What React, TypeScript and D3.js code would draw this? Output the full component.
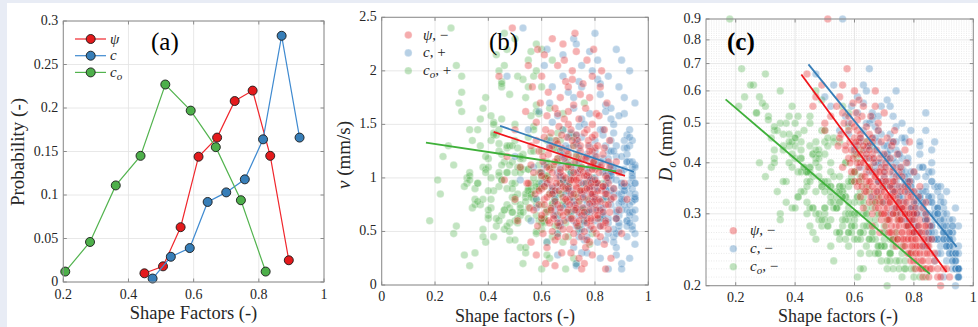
import React from 'react';
import * as d3 from 'd3';

const FONT = "'Liberation Serif', 'DejaVu Serif', 'Times New Roman', Times, serif";
const RED = '#e41a1c';
const BLUE = '#377eb8';
const GREEN = '#4daf4a';
const INK = '#262626';

// ---------- Panel (a): probability of shape factors ----------
const binXPsi = [0.449, 0.506, 0.56, 0.615, 0.672, 0.726, 0.781, 0.835, 0.892];
const probPsi = [0.01, 0.018, 0.063, 0.144, 0.166, 0.208, 0.22, 0.145, 0.025];
const binXC = [0.474, 0.53, 0.588, 0.643, 0.7, 0.757, 0.813, 0.87, 0.925];
const probC = [0.004, 0.029, 0.039, 0.092, 0.103, 0.118, 0.164, 0.283, 0.166];
const binXCo = [0.206, 0.282, 0.361, 0.437, 0.513, 0.591, 0.668, 0.745, 0.821];
const probCo = [0.012, 0.046, 0.111, 0.145, 0.227, 0.197, 0.155, 0.094, 0.012];

const ticksAX = [0.2, 0.4, 0.6, 0.8, 1];
const ticksAY = [0, 0.05, 0.1, 0.15, 0.2, 0.25, 0.3];
const ticksBX = [0, 0.2, 0.4, 0.6, 0.8, 1];
const ticksBY = [0, 0.5, 1, 1.5, 2, 2.5];
const ticksCX = [0.2, 0.4, 0.6, 0.8, 1];
const ticksCY = [0.2, 0.3, 0.4, 0.5, 0.6, 0.7, 0.8, 0.9];

// ---------- Per-drop values (estimated from panels b, c) ----------
const psiVals = [
  0.44,0.46,0.49,0.50,0.51,0.52,0.54,0.545,0.55,0.555,
  0.56,0.56,0.565,0.57,0.575,0.58,0.58,0.585,0.59,0.59,
  0.595,0.60,0.60,0.60,0.605,0.605,0.61,0.61,0.61,0.615,
  0.615,0.62,0.62,0.62,0.625,0.625,0.63,0.63,0.63,0.635,
  0.635,0.64,0.64,0.64,0.64,0.595,0.615,0.645,0.645,0.65,
  0.65,0.65,0.655,0.655,0.66,0.66,0.66,0.665,0.665,0.67,
  0.67,0.67,0.675,0.675,0.68,0.68,0.68,0.685,0.685,0.69,
  0.69,0.69,0.69,0.695,0.695,0.65,0.66,0.67,0.68,0.685,
  0.70,0.70,0.70,0.705,0.705,0.71,0.71,0.71,0.715,0.715,
  0.72,0.72,0.72,0.72,0.725,0.725,0.73,0.73,0.73,0.73,
  0.735,0.735,0.74,0.74,0.74,0.74,0.745,0.745,0.75,0.75,
  0.75,0.70,0.71,0.72,0.725,0.73,0.735,0.74,0.745,0.705,
  0.715,0.75,0.755,0.755,0.76,0.76,0.76,0.765,0.765,0.77,
  0.77,0.77,0.775,0.775,0.78,0.78,0.78,0.78,0.785,0.785,
  0.79,0.79,0.79,0.79,0.795,0.795,0.80,0.80,0.80,0.80,
  0.805,0.805,0.755,0.76,0.77,0.775,0.78,0.785,0.79,0.795,
  0.80,0.805,0.765,0.77,0.785,0.80,0.81,0.81,0.81,0.815,
  0.815,0.82,0.82,0.82,0.825,0.825,0.83,0.83,0.83,0.835,
  0.835,0.84,0.84,0.84,0.845,0.845,0.85,0.85,0.85,0.855,
  0.855,0.86,0.86,0.82,0.84,0.87,0.88,0.89,0.90,0.92,
  0.47,0.50,0.55,0.56,0.57,0.58,0.585,0.59,0.60,0.60,
  0.605,0.61,0.61,0.615,0.62,0.62,0.625,0.63,0.63,0.635,
  0.64,0.64,0.645,0.65,0.65,0.655,0.66,0.66,0.665,0.67,
  0.67,0.675,0.68,0.68,0.685,0.69,0.69,0.695,0.695,0.66,
  0.70,0.70,0.705,0.71,0.71,0.715,0.72,0.72,0.725,0.73,
  0.73,0.735,0.74,0.74,0.745,0.745,0.75,0.75,0.70,0.72,
  0.73,0.755,0.76,0.76,0.765,0.77,0.77,0.775,0.78,0.78,
  0.785,0.785,0.79,0.79,0.795,0.795,0.80,0.80,0.805,0.805,
  0.77,0.79,0.81,0.81,0.815,0.82,0.82,0.825,0.83,0.83,
  0.835,0.84,0.84,0.845,0.85,0.855,0.87,0.88,0.89,0.91,
];
const cVals = [
  0.47,0.52,0.53,0.55,0.56,0.57,0.59,0.60,0.61,0.58,
  0.63,0.62,0.64,0.60,0.65,0.64,0.66,0.62,0.65,0.67,
  0.63,0.66,0.68,0.64,0.69,0.66,0.70,0.65,0.68,0.67,
  0.71,0.66,0.69,0.72,0.68,0.70,0.67,0.73,0.69,0.71,
  0.68,0.72,0.70,0.74,0.69,0.66,0.73,0.71,0.74,0.72,
  0.70,0.76,0.73,0.71,0.75,0.72,0.77,0.73,0.74,0.76,
  0.72,0.78,0.74,0.75,0.77,0.73,0.79,0.75,0.76,0.78,
  0.74,0.80,0.77,0.75,0.79,0.73,0.78,0.74,0.76,0.81,
  0.77,0.79,0.75,0.80,0.78,0.82,0.76,0.80,0.79,0.83,
  0.78,0.81,0.80,0.84,0.79,0.82,0.81,0.78,0.85,0.83,
  0.80,0.84,0.82,0.86,0.81,0.83,0.85,0.82,0.84,0.87,
  0.83,0.84,0.77,0.86,0.80,0.82,0.86,0.80,0.88,0.83,
  0.81,0.85,0.85,0.83,0.87,0.84,0.89,0.86,0.84,0.88,
  0.85,0.90,0.86,0.88,0.87,0.85,0.91,0.88,0.86,0.89,
  0.87,0.92,0.88,0.86,0.90,0.88,0.89,0.87,0.92,0.90,
  0.88,0.91,0.82,0.90,0.86,0.91,0.84,0.92,0.85,0.93,
  0.86,0.93,0.88,0.83,0.87,0.91,0.90,0.88,0.93,0.91,
  0.89,0.92,0.94,0.90,0.93,0.91,0.94,0.92,0.90,0.95,
  0.93,0.91,0.94,0.92,0.95,0.93,0.94,0.92,0.95,0.93,
  0.94,0.95,0.93,0.89,0.90,0.94,0.95,0.94,0.95,0.95,
  0.50,0.58,0.62,0.61,0.65,0.63,0.67,0.64,0.67,0.65,
  0.68,0.66,0.69,0.68,0.71,0.67,0.72,0.68,0.70,0.73,
  0.71,0.75,0.70,0.74,0.72,0.75,0.73,0.76,0.71,0.77,
  0.75,0.73,0.78,0.75,0.79,0.76,0.78,0.77,0.80,0.74,
  0.78,0.81,0.77,0.79,0.82,0.80,0.79,0.83,0.81,0.80,
  0.84,0.82,0.85,0.81,0.84,0.86,0.83,0.86,0.76,0.85,
  0.78,0.84,0.86,0.88,0.85,0.87,0.89,0.86,0.89,0.87,
  0.90,0.88,0.91,0.89,0.87,0.92,0.90,0.88,0.92,0.90,
  0.84,0.93,0.91,0.93,0.90,0.94,0.92,0.95,0.91,0.94,
  0.92,0.95,0.93,0.94,0.93,0.95,0.95,0.94,0.95,0.95,
];
const coVals = [
  0.30,0.21,0.26,0.33,0.18,0.38,0.30,0.36,0.28,0.41,
  0.25,0.39,0.45,0.33,0.22,0.42,0.31,0.47,0.37,0.44,
  0.29,0.40,0.51,0.35,0.46,0.27,0.55,0.38,0.43,0.32,
  0.49,0.41,0.36,0.52,0.45,0.30,0.48,0.39,0.56,0.42,
  0.34,0.50,0.44,0.58,0.37,0.47,0.53,0.45,0.52,0.38,
  0.55,0.48,0.41,0.60,0.46,0.35,0.53,0.43,0.57,0.50,
  0.39,0.62,0.47,0.54,0.44,0.58,0.49,0.37,0.61,0.52,
  0.45,0.56,0.42,0.63,0.50,0.33,0.59,0.47,0.40,0.55,
  0.53,0.46,0.60,0.49,0.38,0.57,0.51,0.64,0.44,0.55,
  0.48,0.62,0.41,0.58,0.52,0.66,0.47,0.56,0.61,0.43,
  0.54,0.50,0.63,0.45,0.59,0.52,0.67,0.48,0.57,0.64,
  0.40,0.58,0.35,0.68,0.46,0.55,0.62,0.50,0.70,0.65,
  0.53,0.60,0.60,0.52,0.66,0.55,0.48,0.63,0.58,0.70,
  0.51,0.64,0.57,0.47,0.68,0.61,0.54,0.72,0.59,0.65,
  0.50,0.69,0.62,0.56,0.74,0.60,0.66,0.53,0.71,0.63,
  0.58,0.68,0.45,0.73,0.62,0.67,0.49,0.76,0.57,0.70,
  0.60,0.77,0.54,0.44,0.64,0.65,0.67,0.60,0.72,0.65,
  0.56,0.70,0.63,0.75,0.58,0.69,0.66,0.73,0.61,0.78,
  0.68,0.64,0.71,0.59,0.76,0.67,0.74,0.62,0.80,0.70,
  0.65,0.77,0.72,0.55,0.69,0.75,0.82,0.71,0.79,0.84,
  0.23,0.35,0.32,0.27,0.40,0.34,0.28,0.42,0.33,0.45,
  0.39,0.31,0.47,0.36,0.50,0.40,0.44,0.33,0.51,0.46,
  0.39,0.54,0.43,0.49,0.36,0.56,0.44,0.51,0.40,0.55,
  0.48,0.42,0.59,0.46,0.52,0.41,0.57,0.49,0.60,0.38,
  0.55,0.48,0.58,0.45,0.61,0.50,0.56,0.44,0.63,0.52,
  0.58,0.47,0.62,0.54,0.49,0.65,0.58,0.51,0.42,0.66,
  0.45,0.56,0.62,0.53,0.66,0.59,0.69,0.52,0.64,0.57,
  0.70,0.61,0.55,0.67,0.60,0.73,0.58,0.68,0.62,0.74,
  0.50,0.72,0.64,0.71,0.59,0.68,0.74,0.62,0.70,0.77,
  0.65,0.73,0.60,0.79,0.68,0.75,0.72,0.80,0.76,0.83,
];
const vVals = [
  1.95,0.98,2.40,1.45,0.60,1.10,1.62,0.95,2.05,0.72,
  1.30,0.40,1.85,1.05,0.85,1.52,0.28,2.20,0.75,1.25,
  1.70,0.62,1.95,0.90,1.15,0.48,1.38,0.80,2.15,1.00,
  0.68,1.58,0.95,0.35,1.22,1.80,0.58,1.08,0.85,1.42,
  0.72,2.30,0.92,0.50,1.30,1.05,0.20,1.12,0.65,1.65,
  0.88,0.42,1.35,1.00,2.05,0.75,1.18,0.55,1.48,0.95,
  1.75,0.68,1.28,0.30,1.02,2.25,0.82,1.55,0.60,1.10,
  1.90,0.90,0.45,1.38,0.78,0.18,1.60,1.05,0.65,2.10,
  1.22,0.70,1.85,0.95,0.52,1.45,0.85,1.10,2.00,0.62,
  1.30,0.40,1.00,1.68,0.75,1.15,0.90,2.18,0.58,1.40,
  0.82,1.05,0.25,1.55,0.95,0.68,1.25,1.78,0.88,0.45,
  1.18,1.62,0.30,0.98,2.35,0.72,1.35,0.60,1.08,0.80,
  1.92,0.15,1.05,0.72,1.42,0.88,0.50,1.65,0.95,1.20,
  0.62,2.10,0.80,1.30,0.40,1.00,1.75,0.70,1.12,0.55,
  1.50,0.92,0.28,1.25,0.78,2.20,0.65,1.08,1.40,0.85,
  0.48,1.60,1.88,0.20,1.02,1.35,0.90,0.60,1.95,1.15,
  0.75,0.95,0.35,1.45,0.85,1.28,0.95,0.62,1.30,0.80,
  1.58,0.45,1.10,0.70,2.00,0.88,0.55,1.22,0.92,0.38,
  1.45,0.75,1.02,0.60,1.70,0.85,0.52,1.15,0.95,0.68,
  1.35,0.80,0.25,1.85,0.15,0.90,0.62,1.05,0.48,0.80,
  1.20,0.80,0.95,1.12,0.70,1.35,0.55,0.88,1.02,0.65,
  1.20,0.92,0.75,1.45,0.82,1.10,0.60,0.98,1.28,0.70,
  1.05,0.85,0.62,1.15,0.78,0.95,1.32,0.58,0.88,1.08,
  0.72,1.40,0.92,0.52,1.18,0.80,1.00,0.68,1.25,0.45,
  0.90,1.12,0.75,0.98,0.62,1.35,0.85,1.05,0.70,1.20,
  0.92,0.55,1.00,0.78,1.30,0.88,0.65,1.10,1.50,0.48,
  0.98,0.82,1.02,0.68,1.18,0.90,0.58,1.05,0.76,1.25,
  0.95,0.62,1.08,0.85,0.52,1.15,0.80,0.98,0.70,1.20,
  0.42,1.38,0.88,0.65,1.05,0.78,0.55,1.12,0.92,0.68,
  1.28,0.85,0.58,1.00,0.75,1.10,0.82,1.15,0.70,0.95,
];
const dVals = [
  0.66,0.55,0.62,0.48,0.90,0.52,0.55,0.44,0.58,0.47,
  0.62,0.39,0.50,0.43,0.68,0.41,0.52,0.45,0.50,0.38,
  0.56,0.46,0.36,0.60,0.42,0.53,0.35,0.44,0.48,0.39,
  0.57,0.33,0.47,0.40,0.52,0.37,0.43,0.31,0.55,0.41,
  0.34,0.45,0.38,0.49,0.36,0.41,0.45,0.44,0.35,0.47,
  0.32,0.39,0.52,0.36,0.42,0.30,0.46,0.34,0.40,0.31,
  0.55,0.37,0.43,0.33,0.38,0.35,0.48,0.32,0.41,0.29,
  0.39,0.34,0.45,0.30,0.36,0.41,0.28,0.60,0.50,0.27,
  0.37,0.31,0.42,0.28,0.40,0.33,0.46,0.30,0.36,0.27,
  0.41,0.32,0.38,0.29,0.35,0.44,0.30,0.34,0.26,0.39,
  0.31,0.48,0.33,0.28,0.37,0.25,0.32,0.42,0.29,0.35,
  0.31,0.53,0.29,0.33,0.27,0.45,0.36,0.30,0.26,0.39,
  0.32,0.38,0.30,0.34,0.27,0.37,0.29,0.32,0.25,0.35,
  0.28,0.31,0.40,0.26,0.30,0.33,0.27,0.24,0.36,0.29,
  0.31,0.25,0.34,0.28,0.30,0.26,0.32,0.23,0.29,0.27,
  0.31,0.25,0.39,0.26,0.43,0.28,0.35,0.24,0.33,0.27,
  0.38,0.22,0.31,0.30,0.45,0.34,0.26,0.30,0.24,0.28,
  0.33,0.25,0.22,0.29,0.27,0.23,0.31,0.26,0.21,0.28,
  0.24,0.30,0.22,0.27,0.25,0.29,0.23,0.26,0.21,0.28,
  0.24,0.22,0.26,0.35,0.32,0.23,0.21,0.20,0.22,0.21,
  0.58,0.50,0.46,0.53,0.44,0.48,0.40,0.43,0.49,0.38,
  0.45,0.51,0.40,0.36,0.42,0.46,0.35,0.40,0.44,0.37,
  0.42,0.34,0.39,0.36,0.43,0.33,0.38,0.35,0.41,0.32,
  0.37,0.34,0.36,0.31,0.38,0.33,0.30,0.35,0.32,0.45,
  0.34,0.30,0.36,0.31,0.33,0.29,0.35,0.32,0.28,0.33,
  0.30,0.34,0.27,0.31,0.29,0.26,0.32,0.28,0.38,0.27,
  0.36,0.29,0.27,0.31,0.26,0.30,0.25,0.32,0.28,0.26,
  0.27,0.30,0.26,0.24,0.29,0.25,0.27,0.30,0.24,0.26,
  0.34,0.23,0.25,0.23,0.28,0.24,0.27,0.22,0.25,0.23,
  0.26,0.22,0.28,0.24,0.25,0.22,0.24,0.22,0.21,0.22,
];

// ---------- Fitted lines (end points) ----------
const fitVPsi = [[0.42, 1.43], [0.9125, 1.02]];
const fitVC = [[0.444, 1.486], [0.946, 1.056]];
const fitVCo = [[0.166, 1.33], [0.879, 1.062]];
const fitDPsi = [[0.421, 0.658], [0.91, 0.216]];
const fitDC = [[0.445, 0.697], [0.944, 0.249]];
const fitDCo = [[0.166, 0.572], [0.854, 0.2136]];

const fmt = (v: number) => String(+v.toFixed(3));
const T: any = { fontFamily: FONT };

function Axes(props: any) {
  const { x, y, xTicks, yTicks, minorY, children, tickGap } = props;
  const [l, r] = x.range();
  const [b, t] = y.range();
  const tl = 3.5;
  return (
    <g>
      <rect x={l} y={t} width={r - l} height={b - t} fill="#fff" />
      {minorY &&
        minorY.map((v: number, i: number) => (
          <line key={'m' + i} x1={l} x2={r} y1={y(v)} y2={y(v)} stroke="#d4d4d4" strokeWidth={0.5} strokeDasharray="1,1.5" />
        ))}
      {xTicks.map((v: number, i: number) => (
        <line key={'gx' + i} x1={x(v)} x2={x(v)} y1={t} y2={b} stroke="#e2e2e2" strokeWidth={0.8} />
      ))}
      {yTicks.map((v: number, i: number) => (
        <line key={'gy' + i} x1={l} x2={r} y1={y(v)} y2={y(v)} stroke="#e2e2e2" strokeWidth={0.8} />
      ))}
      {children}
      <rect x={l} y={t} width={r - l} height={b - t} fill="none" stroke="#8c8c8c" strokeWidth={1} />
      {xTicks.map((v: number, i: number) => (
        <g key={'tx' + i}>
          <line x1={x(v)} x2={x(v)} y1={b} y2={b - tl} stroke="#8c8c8c" />
          <line x1={x(v)} x2={x(v)} y1={t} y2={t + tl} stroke="#8c8c8c" />
          <text x={x(v)} y={b + (tickGap || 16)} textAnchor="middle" fontSize={14} style={T} fill={INK}>
            {fmt(v)}
          </text>
        </g>
      ))}
      {yTicks.map((v: number, i: number) => (
        <g key={'ty' + i}>
          <line x1={l} x2={l + tl} y1={y(v)} y2={y(v)} stroke="#8c8c8c" />
          <line x1={r} x2={r - tl} y1={y(v)} y2={y(v)} stroke="#8c8c8c" />
          <text x={l - 5} y={y(v) + 4} textAnchor="end" fontSize={14} style={T} fill={INK}>
            {fmt(v)}
          </text>
        </g>
      ))}
    </g>
  );
}

function Scatter({ xs, ys, x, y, color }: any) {
  return (
    <g>
      {xs.map((xv: number, i: number) => (
        <circle
          key={i}
          cx={x(xv)}
          cy={y(ys[i])}
          r={3.8}
          fill={color}
          fillOpacity={0.34}
          stroke="#ffffff"
          strokeOpacity={0.45}
          strokeWidth={0.6}
        />
      ))}
    </g>
  );
}

export default function App() {
  const W = 978;
  const H = 327;

  const xA = d3.scaleLinear().domain([0.2, 1]).range([63.3, 324]);
  const yA = d3.scaleLinear().domain([0, 0.3]).range([282, 21]);
  const xB = d3.scaleLinear().domain([0, 1]).range([381.7, 648.3]);
  const yB = d3.scaleLinear().domain([0, 2.5]).range([285, 17.3]);
  const xC = d3.scaleLinear().domain([0.1, 1]).range([706, 973.3]);
  const yC = d3.scaleLog().domain([0.2, 0.9]).range([285.7, 19]);

  const minorC: number[] = [];
  for (let k = 21; k < 90; k++) {
    if (k % 10 !== 0) minorC.push(k / 100);
  }

  const lineA = (xs: number[], ys: number[]) =>
    d3.line<number>().x((_, i) => xA(xs[i])).y((_, i) => yA(ys[i]))(xs) || '';
  const lineB = d3.line<number[]>().x((d) => xB(d[0])).y((d) => yB(d[1]));
  const lineC = d3.line<number[]>().x((d) => xC(d[0])).y((d) => yC(d[1]));

  const seriesA = [
    { xs: binXPsi, ys: probPsi, color: RED, line: '#f0262c' },
    { xs: binXC, ys: probC, color: BLUE, line: '#3f8ad0' },
    { xs: binXCo, ys: probCo, color: GREEN, line: '#52b34e' },
  ];

  const legA = [
    { color: RED, line: '#f0262c', label: <tspan fontStyle="italic">ψ</tspan> },
    { color: BLUE, line: '#3f8ad0', label: <tspan fontStyle="italic">c</tspan> },
    {
      color: GREEN,
      line: '#52b34e',
      label: (
        <>
          <tspan fontStyle="italic">c</tspan>
          <tspan fontStyle="italic" fontSize={11} dy={3}>o</tspan>
        </>
      ),
    },
  ];

  const legLabel = (sym: string, sub: boolean, sign: string) => (
    <>
      <tspan fontStyle="italic">{sym}</tspan>
      {sub && (
        <tspan fontStyle="italic" fontSize={11} dy={3}>
          o
        </tspan>
      )}
      <tspan dy={sub ? -3 : 0}>{', ' + sign}</tspan>
    </>
  );

  const legB = [
    { color: RED, label: legLabel('ψ', false, '\u2212') },
    { color: BLUE, label: legLabel('c', false, '+') },
    { color: GREEN, label: legLabel('c', true, '+') },
  ];
  const legC = [
    { color: RED, label: legLabel('ψ', false, '\u2212') },
    { color: BLUE, label: legLabel('c', false, '\u2212') },
    { color: GREEN, label: legLabel('c', true, '\u2212') },
  ];

  return (
    <svg
      width={W}
      height={H}
      viewBox={`0 0 ${W} ${H}`}
      style={{ position: 'absolute', left: 0, top: 0, display: 'block', fontFamily: FONT }}
    >
      <rect x={0} y={0} width={W} height={H} fill="#e8ecf5" />
      <rect x={7} y={3} width={W - 7} height={H - 3} fill="#ffffff" />

      {/* ---------------- Panel (a) ---------------- */}
      <Axes x={xA} y={yA} xTicks={ticksAX} yTicks={ticksAY} tickGap={17}>
        {seriesA.map((s, k) => (
          <g key={k}>
            <path d={lineA(s.xs, s.ys)} fill="none" stroke={s.line} strokeWidth={1.2} />
            {s.xs.map((xv, i) => (
              <circle key={i} cx={xA(xv)} cy={yA(s.ys[i])} r={4.5} fill={s.color} stroke="#1a1a1a" strokeWidth={0.9} />
            ))}
          </g>
        ))}
      </Axes>
      {legA.map((g, i) => {
        const yy = 39 + i * 16.7;
        return (
          <g key={i}>
            <line x1={75} x2={106} y1={yy} y2={yy} stroke={g.line} strokeWidth={1.2} />
            <circle cx={90.7} cy={yy} r={4.5} fill={g.color} stroke="#1a1a1a" strokeWidth={0.9} />
            <text x={110} y={yy + 4.5} fontSize={15} style={T} fill={INK}>
              {g.label}
            </text>
          </g>
        );
      })}
      <text x={151} y={50} fontSize={25} style={T} fill="#000">
        (a)
      </text>
      <text transform={`translate(24,152) rotate(-90)`} textAnchor="middle" fontSize={19} style={T} fill={INK}>
        Probability (-)
      </text>
      <text x={193.5} y={319} textAnchor="middle" fontSize={18.5} style={T} fill={INK}>
        Shape Factors (-)
      </text>

      {/* ---------------- Panel (b) ---------------- */}
      <Axes x={xB} y={yB} xTicks={ticksBX} yTicks={ticksBY}>
        <Scatter xs={coVals} ys={vVals} x={xB} y={yB} color={GREEN} />
        <Scatter xs={cVals} ys={vVals} x={xB} y={yB} color={BLUE} />
        <Scatter xs={psiVals} ys={vVals} x={xB} y={yB} color={RED} />
        <path d={lineB(fitVC) || ''} stroke={BLUE} strokeWidth={1.8} fill="none" />
        <path d={lineB(fitVPsi) || ''} stroke="#f0141a" strokeWidth={1.8} fill="none" />
        <path d={lineB(fitVCo) || ''} stroke="#3fb03a" strokeWidth={1.8} fill="none" />
      </Axes>
      {legB.map((g, i) => {
        const yy = 35 + i * 17.9;
        return (
          <g key={i}>
            <circle cx={408.3} cy={yy} r={3.8} fill={g.color} fillOpacity={0.36} stroke="#fff" strokeOpacity={0.45} strokeWidth={0.6} />
            <text x={423} y={yy + 4.5} fontSize={15} style={T} fill={INK}>
              {g.label}
            </text>
          </g>
        );
      })}
      <text x={489} y={50} fontSize={25} style={T} fill="#000">
        (b)
      </text>
      <text transform={`translate(350,155) rotate(-90)`} textAnchor="middle" fontSize={19} style={T} fill={INK}>
        <tspan fontStyle="italic">v</tspan> (mm/s)
      </text>
      <text x={515} y={322} textAnchor="middle" fontSize={18} style={T} fill={INK}>
        Shape factors (-)
      </text>

      {/* ---------------- Panel (c) ---------------- */}
      <Axes x={xC} y={yC} xTicks={ticksCX} yTicks={ticksCY} minorY={minorC}>
        <Scatter xs={coVals} ys={dVals} x={xC} y={yC} color={GREEN} />
        <Scatter xs={cVals} ys={dVals} x={xC} y={yC} color={BLUE} />
        <Scatter xs={psiVals} ys={dVals} x={xC} y={yC} color={RED} />
        <path d={lineC(fitDC) || ''} stroke={BLUE} strokeWidth={1.8} fill="none" />
        <path d={lineC(fitDPsi) || ''} stroke="#f0141a" strokeWidth={1.8} fill="none" />
        <path d={lineC(fitDCo) || ''} stroke="#3fb03a" strokeWidth={1.8} fill="none" />
      </Axes>
      {legC.map((g, i) => {
        const yy = 230.7 + i * 18;
        return (
          <g key={i}>
            <circle cx={733.3} cy={yy} r={3.8} fill={g.color} fillOpacity={0.36} stroke="#fff" strokeOpacity={0.45} strokeWidth={0.6} />
            <text x={750} y={yy + 4.5} fontSize={15} style={T} fill={INK}>
              {g.label}
            </text>
          </g>
        );
      })}
      <text x={727} y={50} fontSize={25} fontWeight="bold" style={T} fill="#000">
        (c)
      </text>
      <text transform={`translate(672,148) rotate(-90)`} textAnchor="middle" fontSize={19} style={T} fill={INK}>
        <tspan fontStyle="italic">D</tspan>
        <tspan fontStyle="italic" fontSize={13} dy={4}>o</tspan>
        <tspan dy={-4}> (mm)</tspan>
      </text>
      <text x={838} y={322} textAnchor="middle" fontSize={18} style={T} fill={INK}>
        Shape factors (-)
      </text>
    </svg>
  );
}
